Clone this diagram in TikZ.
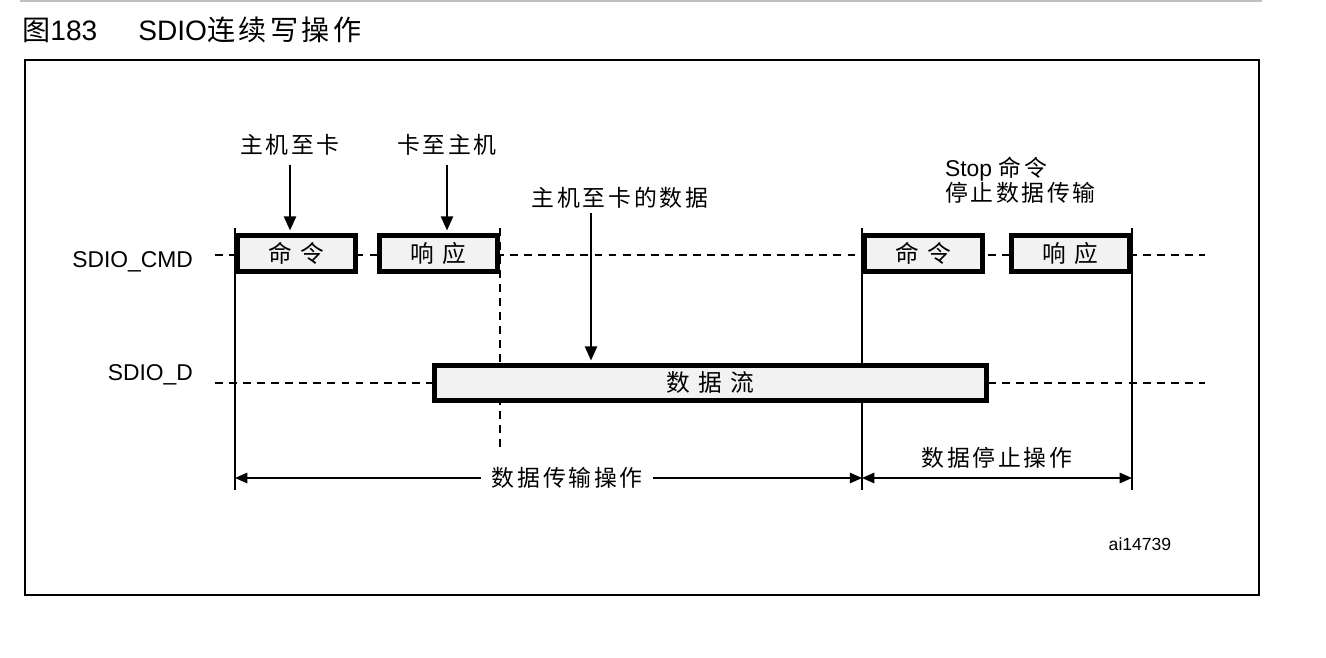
\documentclass[tikz,border=0pt]{standalone}
\usepackage{fontspec}
\setmainfont{Liberation Sans}
\newfontfamily\cjk[LetterSpace=12]{Noto Sans CJK SC}
\usetikzlibrary{arrows.meta, backgrounds, positioning}
\tikzset{x=.02cm, y=-.02cm}
\definecolor{boxgray}{HTML}{F2F2F2}
\definecolor{rulegray}{HTML}{BFBFBF}

\begin{document}
\begin{tikzpicture}[
    txt/.style={font=\cjk\fontsize{13}{14}\selectfont, inner sep=1pt},
    sig/.style={font=\fontsize{13}{15}\selectfont, anchor=east, inner sep=1pt},
    sigbox/.style={draw, line width=2.8pt, fill=boxgray, minimum width=2.36cm,
      minimum height=.72cm, inner sep=0pt, font=\cjk\fontsize{13.5}{15}\selectfont},
    tick/.style={line width=.8pt},
    dline/.style={line width=.8pt, dash pattern=on 4.5pt off 3.5pt},
    tip/.style={-{Triangle[length=8pt,width=7pt]}, line width=.9pt},
    dim/.style={{Triangle[length=7pt,width=6pt]}-{Triangle[length=7pt,width=6pt]}, line width=.8pt}]
  \useasboundingbox (0,0) rectangle (1326,658);
  % title and frame
  \draw[rulegray, line width=.8pt] (20,1) -- (1262,1);
  \node[anchor=west, inner sep=0pt, font=\fontsize{16}{19}\selectfont] (fignum) at (22,30) {{\cjk 图}183};
  \node[anchor=west, inner sep=0pt, font=\fontsize{16}{19}\selectfont] (title) at (138,30) {SDIO{\cjk 连续写操作}};
  \draw[line width=.8pt] (25,60) rectangle (1259,595);

  % signal names
  \node[sig] (cmd) at (195,262) {SDIO\_CMD};
  \node[sig] (dat) at (195,375) {SDIO\_D};

  % boxes
  \node[sigbox] (cmd1) at (296.5,253.5) {命 令};
  \node[sigbox] (rsp1) at (438.5,253.5) {响 应};
  \node[sigbox] (cmd2) at (923.5,253.5) {命 令};
  \node[sigbox] (rsp2) at (1070.5,253.5) {响 应};
  \node[sigbox, minimum width=11.06cm, minimum height=.70cm] (data) at (710.5,383) {数 据 流};

  % labels
  \node[txt] (host) at (290,145) {主机至卡};
  \node[txt] (card) at (447,145) {卡至主机};
  \node[txt] (hdata) at (620,198) {主机至卡的数据};
  \node[anchor=west, align=left, inner sep=1pt, font=\fontsize{13}{14}\selectfont] (stop) at (943,180)
    {Stop {\cjk 命令}\\{\cjk 停止数据传输}};
  \node[font=\fontsize{10}{12}\selectfont] (ref) at (1140,544) {ai14739};

  \coordinate (cmdL) at (215,255);
  \coordinate (cmdR) at (1205,255);
  \coordinate (datL) at (215,383);
  \coordinate (datR) at (1205,383);
  \coordinate (vtop) at (0,228);
  \coordinate (vbot) at (0,490);
  \coordinate (dbot) at (0,450);
  \coordinate (dimy) at (0,478);
  \coordinate (dx) at (591,213);

  \begin{scope}[on background layer]
    \draw[dline] (cmdL) -- (cmdR);
    \draw[dline] (datL) -- (datR);
    \draw[tick] (cmd1.north west |- vtop) -- (cmd1.north west |- vbot);
    \draw[tick] (cmd2.north west |- vtop) -- (cmd2.north west |- vbot);
    \draw[tick] (rsp2.north east |- vtop) -- (rsp2.north east |- vbot);
    \draw[dline] (rsp1.north east |- vtop) -- (rsp1.north east |- dbot);
  \end{scope}

  % arrows
  \draw[tip, shorten <=4pt, shorten >=1.5pt] (host.south) -- (host.south |- cmd1.north);
  \draw[tip, shorten <=4pt, shorten >=1.5pt] (card.south) -- (card.south |- rsp1.north);
  \draw[tip, shorten >=1.5pt] (dx) -- (dx |- data.north);

  % durations
  \draw[dim] (cmd1.north west |- dimy) -- node[txt, fill=white, pos=.53, inner xsep=6pt] {数据传输操作} (cmd2.north west |- dimy);
  \draw[dim] (cmd2.north west |- dimy) -- node[txt, above=4pt] {数据停止操作} (rsp2.north east |- dimy);
\end{tikzpicture}
\end{document}
